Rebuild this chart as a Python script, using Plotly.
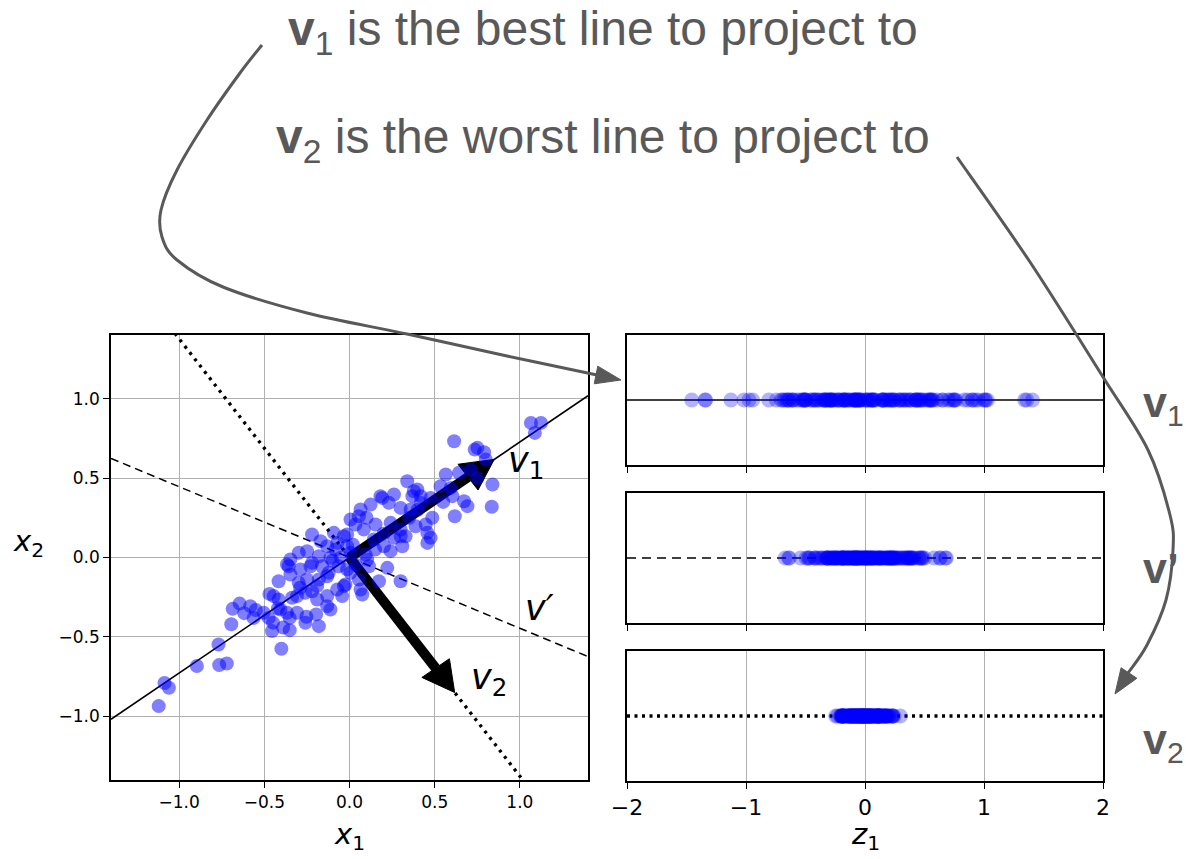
import numpy as np
import plotly.graph_objects as go

W, H = 1186, 859

# ---------------- data ----------------
x1_vals = [
    -1.12, -1.086, -1.06, -0.896, -0.769, -0.765, -0.72, -0.694, -0.686, -0.645,
    -0.618, -0.582, -0.563, -0.504, -0.47, -0.474, -0.455, -0.449, -0.4, -0.39,
    -0.351, -0.367, -0.351, -0.308, -0.253, -0.196, -0.18, -0.416, -0.357, -0.298,
    -0.416, -0.337, -0.22, -0.131, -0.112, -0.043, -0.024, -0.18, -0.122, -0.229,
    -0.063,
    -0.445, -0.367, -0.347, -0.298, -0.22, -0.17, -0.161, -0.249, -0.29, -0.19,
    -0.131, -0.112, -0.082, -0.014, 0.006, 0.055, 0.065, 0.124, 0.153, -0.033,
    0.006, 0.055, 0.075, 0.114, 0.173, -0.131, -0.406, -0.259, -0.308, -0.19,
    -0.072, -0.249, -0.18, -0.131, 0.006, -0.347, -0.288, 0.094,
    1.065, 1.124, 1.088, 0.614, 0.735, 0.79, 0.8, 0.839, 0.835, 0.618,
    0.672, 0.692, 0.565, 0.643, 0.712, 0.751, 0.594, 0.604, 0.535, 0.339,
    0.398, 0.369, 0.261, 0.192, 0.231, 0.3, 0.359, 0.418, 0.476, 0.486,
    0.447, 0.388, 0.457, 0.476, 0.457, 0.329, 0.3, 0.241, 0.084, 0.143,
    0.261, 0.202, 0.31, 0.241, -0.033, -0.014, -0.072,
    -0.092, 0.035, 0.3, 0.222, 0.3, 0.065, -0.259, -0.22, -0.014, 0.035, 0.104,
    0.751, 0.378, 0.418, 0.182,
    -0.05, 0.02, -0.1, 0.15, 0.2, 0.1, 0.35, 0.55, 0.4, -0.55, -0.42,
]
x2_vals = [
    -0.935, -0.79, -0.82, -0.683, -0.547, -0.677, -0.667, -0.42, -0.323, -0.29,
    -0.35, -0.306, -0.38, -0.348, -0.229, -0.38, -0.463, -0.41, -0.574, -0.44,
    -0.457, -0.348, -0.38, -0.348, -0.373, -0.358, -0.432, -0.149, -0.055, -0.159,
    -0.264, -0.253, -0.212, -0.306, -0.327, -0.243, -0.17, -0.138, -0.096, -0.055,
    -0.055,
    -0.243, -0.044, -0.013, 0.03, 0.145, 0.103, -0.055, -0.138, -0.19, -0.18,
    -0.118, -0.002, 0.05, 0.145, 0.239, 0.26, 0.302, 0.333, 0.208, -0.18,
    -0.096, -0.138, -0.233, -0.055, -0.149, -0.243, -0.327, -0.222, -0.243, -0.264,
    -0.201, 0.04, 0.008, 0.071, 0.03, -0.107, -0.075, 0.019,
    0.847, 0.847, 0.784, 0.731, 0.679, 0.662, 0.616, 0.459, 0.319, 0.26,
    0.354, 0.323, 0.522, 0.533, 0.553, 0.501, 0.438, 0.386, 0.448, 0.48,
    0.428, 0.386, 0.396, 0.375, 0.344, 0.312, 0.302, 0.344, 0.375, 0.25,
    0.208, 0.197, 0.155, 0.124, 0.092, 0.134, 0.176, 0.218, 0.176, 0.113,
    0.124, 0.071, 0.071, 0.04, 0.134, 0.071, 0.092,
    0.155, 0.208, 0.134, -0.065, -0.149, -0.201, -0.411, -0.034, -0.075, -0.044, -0.013,
    0.69, 0.417, 0.386, 0.386,
    0.0, 0.08, -0.02, 0.05, 0.15, 0.25, 0.25, 0.35, 0.3, -0.33, -0.32,
]

# projection directions
v1 = [0.809, 0.588]
v_prime = [0.914, -0.407]
v2 = [0.588, -0.809]

x_ticks = [-1.0, -0.5, 0.0, 0.5, 1.0]
z_ticks = [-2, -1, 0, 1, 2]

# ---------------- derived ----------------
X = np.column_stack([x1_vals, x2_vals])
z_v1 = X @ np.array(v1)
z_vp = X @ np.array(v_prime)
z_v2 = X @ np.array(v2)
zeros = np.zeros(len(x1_vals))

GRAY = "#595959"
GRID = "#b0b0b0"
MFONT = "DejaVu Sans"
SFONT = "Liberation Sans, Arial, sans-serif"

fig = go.Figure()

def line_pts(u):
    s = u[1] / u[0]
    return [-1.4, 1.4], [-1.4 * s, 1.4 * s]

lx, ly = line_pts(v1)
fig.add_trace(go.Scatter(x=lx, y=ly, mode="lines", line=dict(color="black", width=1.6),
                         xaxis="x", yaxis="y", showlegend=False, hoverinfo="skip"))
lx, ly = line_pts(v_prime)
fig.add_trace(go.Scatter(x=lx, y=ly, mode="lines", line=dict(color="black", width=1.5, dash="8px,5px"),
                         xaxis="x", yaxis="y", showlegend=False, hoverinfo="skip"))
lx, ly = line_pts(v2)
fig.add_trace(go.Scatter(x=lx, y=ly, mode="lines", line=dict(color="black", width=3.3, dash="3px,5px"),
                         xaxis="x", yaxis="y", showlegend=False, hoverinfo="skip"))

# arrows v1 and v2
for u in (v1, v2):
    u = np.array(u)
    base = 0.86 * u
    tip = 1.05 * u
    perp = np.array([-u[1], u[0]]) * 0.1
    fig.add_trace(go.Scatter(x=[0, base[0]], y=[0, base[1]], mode="lines",
                             line=dict(color="black", width=10),
                             xaxis="x", yaxis="y", showlegend=False, hoverinfo="skip"))
    c1 = base + perp
    c2 = base - perp
    fig.add_trace(go.Scatter(x=[tip[0], c1[0], c2[0], tip[0]], y=[tip[1], c1[1], c2[1], tip[1]],
                             mode="lines", fill="toself", fillcolor="black",
                             line=dict(color="black", width=1),
                             xaxis="x", yaxis="y", showlegend=False, hoverinfo="skip"))

# points
fig.add_trace(go.Scatter(x=x1_vals, y=x2_vals, mode="markers",
                         marker=dict(color="blue", size=14, opacity=0.5, line=dict(width=0)),
                         xaxis="x", yaxis="y", showlegend=False))

# right panels
panel_specs = [
    ("x2", "y2", z_v1, dict(color="black", width=1.6)),
    ("x3", "y3", z_vp, dict(color="black", width=1.5, dash="9px,6px")),
    ("x4", "y4", z_v2, dict(color="black", width=3.3, dash="3px,4.5px")),
]
for xa, ya, z, lstyle in panel_specs:
    fig.add_trace(go.Scatter(x=[-2, 2], y=[0, 0], mode="lines", line=lstyle,
                             xaxis=xa, yaxis=ya, showlegend=False, hoverinfo="skip"))
    fig.add_trace(go.Scatter(x=z, y=zeros, mode="markers",
                             marker=dict(color="blue", size=15, opacity=0.3, line=dict(width=0)),
                             xaxis=xa, yaxis=ya, showlegend=False))

# ---------------- axes ----------------
def px_x(p):
    return p / W

def px_y(p):
    return 1 - p / H

common = dict(showline=True, linecolor="black", linewidth=1.5, mirror=True,
              ticks="outside", ticklen=6, tickwidth=1.3, tickcolor="black",
              zeroline=False, gridcolor=GRID, gridwidth=1.2, automargin=False)

left_font = dict(family=MFONT, size=17, color="black")
right_font = dict(family=MFONT, size=22, color="black")

left_x = dict(common, domain=[px_x(111), px_x(588)], range=[-1.4, 1.4], tickfont=left_font,
              tickvals=x_ticks, tickformat=".1f", showgrid=True, anchor="y")
left_y = dict(common, domain=[px_y(780), px_y(335)], range=[-1.4, 1.4], tickfont=left_font,
              tickvals=x_ticks, tickformat=".1f", showgrid=True, anchor="x")

rx_dom = [px_x(627), px_x(1103)]
panels_y = [(335, 465), (493, 623), (651, 781)]

layout_axes = dict(xaxis=left_x, yaxis=left_y)
for i, (top, bot) in enumerate(panels_y):
    n = i + 2
    layout_axes[f"xaxis{n}"] = dict(common, domain=rx_dom, range=[-2, 2], tickvals=z_ticks,
                                    tickformat="d", showgrid=True, tickfont=right_font,
                                    showticklabels=(n == 4), anchor=f"y{n}")
    layout_axes[f"yaxis{n}"] = dict(common, domain=[px_y(bot), px_y(top)], range=[-1, 1],
                                    showgrid=False, showticklabels=False, ticks="",
                                    anchor=f"x{n}")

# ---------------- annotations ----------------
ann = []
ann.append(dict(text="<i>x</i><sub>1</sub>", x=px_x(349), y=px_y(836), xref="paper", yref="paper",
                showarrow=False, font=dict(family=MFONT, size=29, color="black"),
                xanchor="center", yanchor="middle"))
ann.append(dict(text="<i>z</i><sub>1</sub>", x=px_x(865), y=px_y(836), xref="paper", yref="paper",
                showarrow=False, font=dict(family=MFONT, size=29, color="black"),
                xanchor="center", yanchor="middle"))
ann.append(dict(text="<i>x</i><sub>2</sub>", x=px_x(28), y=px_y(543), xref="paper", yref="paper",
                showarrow=False, font=dict(family=MFONT, size=29, color="black"),
                xanchor="center", yanchor="middle"))
ann.append(dict(text="<i>v</i><sub>1</sub>", x=0.92, y=0.6, xref="x", yref="y", showarrow=False,
                font=dict(family=MFONT, size=35, color="black"), xanchor="left", yanchor="middle"))
ann.append(dict(text="<i>v′</i>", x=1.02, y=-0.32, xref="x", yref="y", showarrow=False,
                font=dict(family=MFONT, size=35, color="black"), xanchor="left", yanchor="middle"))
ann.append(dict(text="<i>v</i><sub>2</sub>", x=0.70, y=-0.77, xref="x", yref="y", showarrow=False,
                font=dict(family=MFONT, size=35, color="black"), xanchor="left", yanchor="middle"))
ann.append(dict(text="<b>v</b><sub>1</sub> is the best line to project to", x=px_x(603), y=px_y(32),
                xref="paper", yref="paper", showarrow=False,
                font=dict(family=SFONT, size=48, color=GRAY), xanchor="center", yanchor="middle"))
ann.append(dict(text="<b>v</b><sub>2</sub> is the worst line to project to", x=px_x(603), y=px_y(140),
                xref="paper", yref="paper", showarrow=False,
                font=dict(family=SFONT, size=48, color=GRAY), xanchor="center", yanchor="middle"))
for txt, yy in (("<b>v</b><sub>1</sub>", 405), ("<b>v’</b>", 568), ("<b>v</b><sub>2</sub>", 742)):
    ann.append(dict(text=txt, x=px_x(1141), y=px_y(yy), xref="paper", yref="paper", showarrow=False,
                    font=dict(family=SFONT, size=43, color=GRAY), xanchor="left", yanchor="middle"))

# ---------------- curved connector arrows ----------------
def smooth_path(pts):
    p = [np.array([px_x(a), px_y(b)]) for a, b in pts]
    s = f"M {p[0][0]:.5f},{p[0][1]:.5f}"
    for i in range(len(p) - 1):
        p0 = p[i - 1] if i > 0 else p[i]
        p1, p2 = p[i], p[i + 1]
        p3 = p[i + 2] if i + 2 < len(p) else p[i + 1]
        c1 = p1 + (p2 - p0) / 6
        c2 = p2 - (p3 - p1) / 6
        s += f" C {c1[0]:.5f},{c1[1]:.5f} {c2[0]:.5f},{c2[1]:.5f} {p2[0]:.5f},{p2[1]:.5f}"
    return s

def head_path(tip, base, half):
    t = np.array(tip, float)
    b = np.array(base, float)
    d = t - b
    d = d / np.linalg.norm(d)
    n = np.array([-d[1], d[0]]) * half
    c1, c2 = b + n, b - n
    q = [(px_x(a), px_y(bb)) for a, bb in (t, c1, c2)]
    return f"M {q[0][0]:.5f},{q[0][1]:.5f} L {q[1][0]:.5f},{q[1][1]:.5f} L {q[2][0]:.5f},{q[2][1]:.5f} Z"

curve1 = [(262, 45), (240, 73), (207, 120), (177, 170), (161, 210), (162, 237), (177, 260),
          (223, 287), (307, 313), (407, 334), (507, 356), (597, 375)]
curve2 = [(957, 157), (1030, 262), (1103, 377), (1148, 450), (1170, 515), (1173, 550),
          (1166, 600), (1147, 645), (1128, 673)]

shapes = [
    dict(type="path", path=smooth_path(curve1), xref="paper", yref="paper",
         line=dict(color=GRAY, width=3)),
    dict(type="path", path=head_path((621, 380), (596, 375), 9), xref="paper", yref="paper",
         line=dict(color=GRAY, width=1), fillcolor=GRAY),
    dict(type="path", path=smooth_path(curve2), xref="paper", yref="paper",
         line=dict(color=GRAY, width=3)),
    dict(type="path", path=head_path((1115, 694), (1129, 673), 9.5), xref="paper", yref="paper",
         line=dict(color=GRAY, width=1), fillcolor=GRAY),
]

fig.update_layout(
    width=W, height=H,
    margin=dict(l=0, r=0, t=0, b=0, autoexpand=False),
    paper_bgcolor="white", plot_bgcolor="white",
    showlegend=False,
    annotations=ann,
    shapes=shapes,
    **layout_axes,
)

fig.write_html(
    "out.html",
    config={"displayModeBar": False},
    post_script="document.body.style.margin='0';document.body.style.padding='0';"
                "document.body.style.overflow='hidden';",
)
